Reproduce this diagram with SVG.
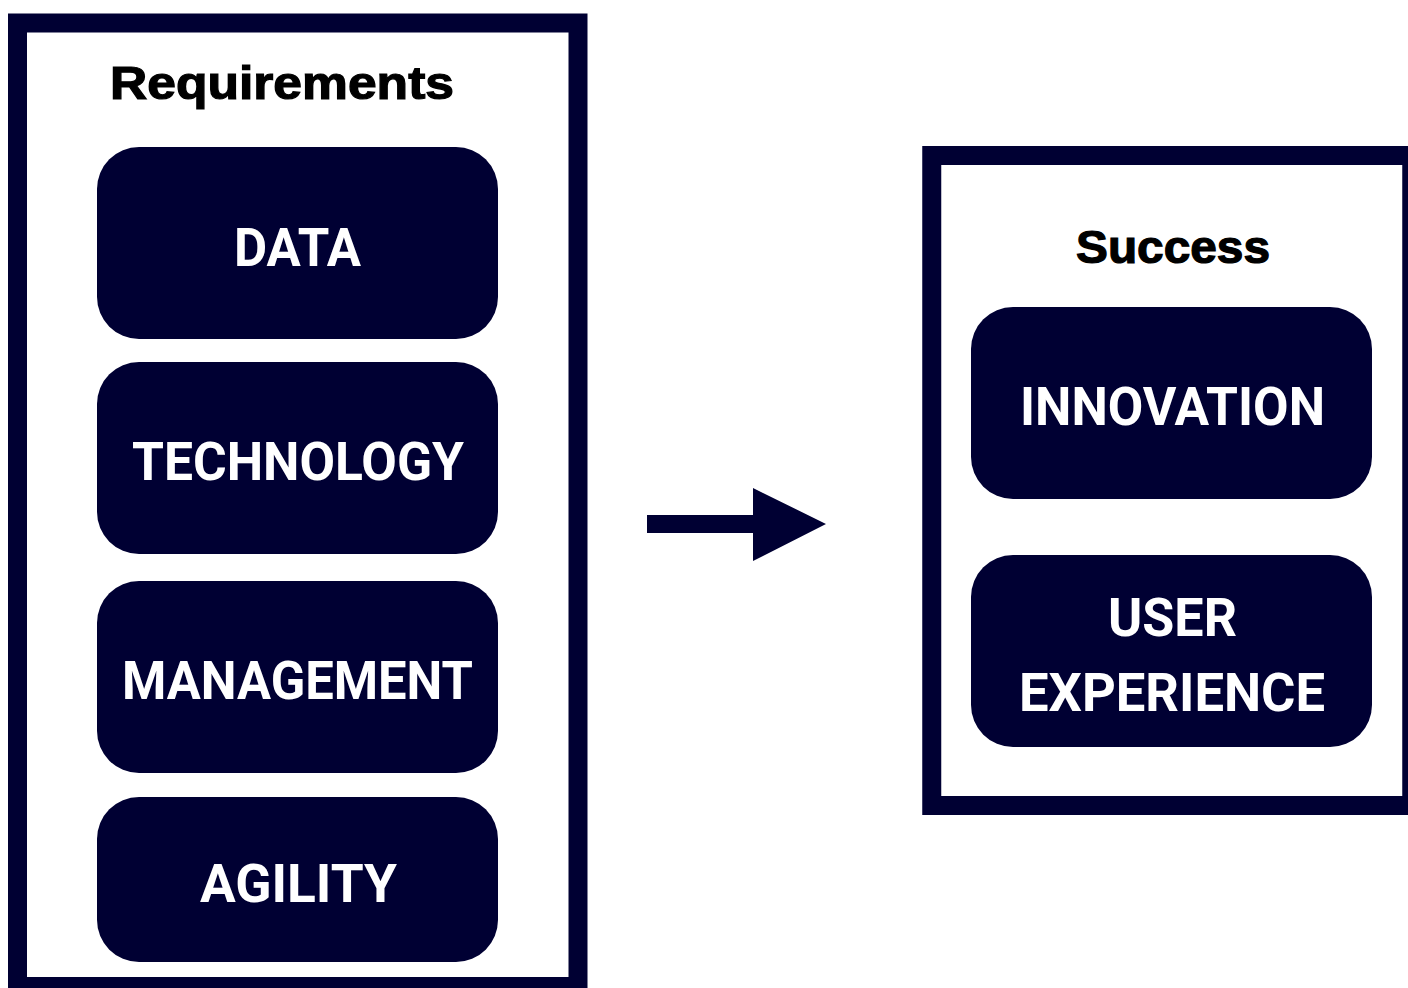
<svg xmlns="http://www.w3.org/2000/svg" width="1408" height="988" viewBox="0 0 1408 988">
<style>
.frame{fill:#ffffff;stroke:#000033;stroke-width:19}
.box{fill:#000033}
.title{font-family:"Liberation Sans",Arial,sans-serif;font-weight:bold;font-size:46px;fill:#000000;stroke:#000000;stroke-width:1.2;text-anchor:middle}
.lbl{font-family:Roboto,"Liberation Sans",sans-serif;font-weight:bold;font-size:54px;fill:#ffffff;text-anchor:middle}
</style>
<rect width="1408" height="988" fill="#ffffff"/>
<g id="requirements">
<rect class="frame" x="17.5" y="23" width="560.5" height="963.5"/>
<text class="title" x="282" y="99" textLength="344" lengthAdjust="spacingAndGlyphs">Requirements</text>
</g>
<g id="data">
<rect class="box" x="97" y="147" width="401" height="192" rx="42"/>
<text class="lbl" x="297.5" y="266" textLength="127" lengthAdjust="spacingAndGlyphs">DATA</text>
</g>
<g id="technology">
<rect class="box" x="97" y="362" width="401" height="192" rx="42"/>
<text class="lbl" x="298" y="480" textLength="332" lengthAdjust="spacingAndGlyphs">TECHNOLOGY</text>
</g>
<g id="management">
<rect class="box" x="97" y="581" width="401" height="192" rx="42"/>
<text class="lbl" x="297.5" y="699" textLength="351" lengthAdjust="spacingAndGlyphs">MANAGEMENT</text>
</g>
<g id="agility">
<rect class="box" x="97" y="797" width="401" height="165" rx="42"/>
<text class="lbl" x="298.5" y="902" textLength="197" lengthAdjust="spacingAndGlyphs">AGILITY</text>
</g>
<g id="success">
<rect class="frame" x="931.75" y="155.5" width="480" height="650"/>
<text class="title" x="1173" y="263" textLength="194" lengthAdjust="spacingAndGlyphs">Success</text>
</g>
<g id="innovation">
<rect class="box" x="971" y="307" width="401" height="192" rx="42"/>
<text class="lbl" x="1172.5" y="425" textLength="305" lengthAdjust="spacingAndGlyphs">INNOVATION</text>
</g>
<g id="user-experience">
<rect class="box" x="971" y="555" width="401" height="192" rx="42"/>
<text class="lbl" x="1172.5" y="636" textLength="129" lengthAdjust="spacingAndGlyphs">USER</text>
<text class="lbl" x="1172" y="711" textLength="306" lengthAdjust="spacingAndGlyphs">EXPERIENCE</text>
</g>
<g id="connectors">
<polygon points="647,515 753,515 753,488 826,524 753,561 753,533 647,533" fill="#000033"/>
</g>
</svg>
